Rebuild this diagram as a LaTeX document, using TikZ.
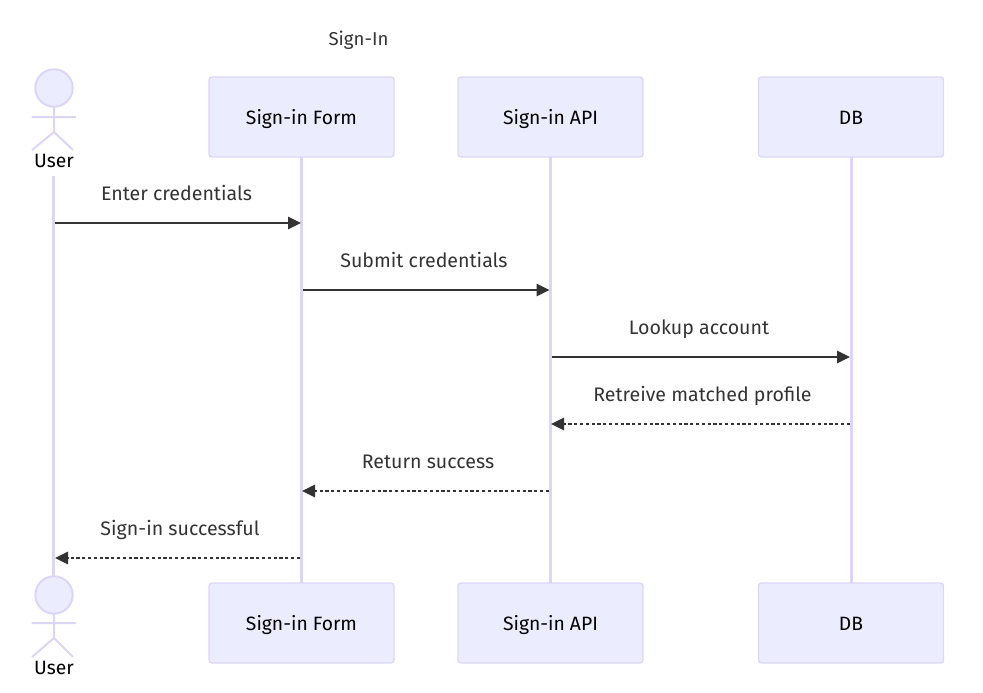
\documentclass[tikz,border=0pt]{standalone}
\usepackage{fontspec}
\setmainfont{Fira Sans}
\usetikzlibrary{positioning, arrows.meta}
\definecolor{actorfill}{HTML}{ECECFF}
\definecolor{actorline}{HTML}{DDD5F5}
\definecolor{msgcolor}{HTML}{333333}

\begin{document}
\begin{tikzpicture}[
    x=1pt,
    y=-1pt,
    >=Stealth,
    actorbox/.style={
        draw=actorline,
        fill=actorfill,
        line width=1.3pt,
        rounded corners=3pt,
        minimum width=185pt,
        minimum height=80pt,
        inner sep=0pt,
        text height=15pt,
        text depth=0pt,
        text=black,
        font=\fontsize{19.3}{22}\selectfont
    },
    actorlabel/.style={
        text=black,
        inner sep=0pt,
        text height=14pt,
        text depth=0pt,
        font=\fontsize{19.3}{22}\selectfont
    },
    figure/.style={draw=actorline, line width=2pt},
    lifeline/.style={draw=actorline, line width=2.5pt},
    msg/.style={
        draw=msgcolor,
        line width=1.6pt,
        -{Triangle[length=13pt,width=12.5pt,fill=msgcolor]}
    },
    reply/.style={msg, dash pattern=on 3.2pt off 2.6pt},
    msglabel/.style={
        text=msgcolor,
        inner sep=0pt,
        text height=14pt,
        text depth=0pt,
        font=\fontsize{19.6}{22}\selectfont
    }
]
    \useasboundingbox (0, 0) rectangle (983, 693);

    \node[msglabel, font=\fontsize{18.6}{22}\selectfont] (title) at (358.5, 38.5) {Sign-In};

    % lifelines go under the boxes
    \coordinate (formtop) at (301.5, 157);
    \coordinate (formend) at (301.5, 583);
    \coordinate (apitop) at (550.5, 157);
    \coordinate (apiend) at (550.5, 583);
    \coordinate (dbtop) at (851.5, 157);
    \coordinate (dbend) at (851.5, 583);
    \coordinate (userstart) at (53.5, 176);
    \coordinate (userend) at (53.5, 577);

    \draw[lifeline] (userstart) -- (userend);
    \draw[lifeline] (formtop) -- (formend);
    \draw[lifeline] (apitop) -- (apiend);
    \draw[lifeline] (dbtop) -- (dbend);

    % top row
    \node[actorbox] (form) at (301.5, 117) {Sign-in Form};
    \node[actorbox] (api) at (550.5, 117) {Sign-in API};
    \node[actorbox] (db) at (851, 117) {DB};
    \node[actorlabel] (user) at (54, 160) {User};

    % bottom row
    \node[actorbox] (form2) at (301.5, 623) {Sign-in Form};
    \node[actorbox] (api2) at (550.5, 623) {Sign-in API};
    \node[actorbox] (db2) at (851, 623) {DB};
    \node[actorlabel] (user2) at (54, 667) {User};

    % stick figures
    \draw[figure, fill=actorfill] (54, 88) circle (18.7);
    \draw[figure] (54, 107) -- (54, 132) (31.5, 117) -- (76, 117) (32, 150) -- (54, 132) -- (73, 150);
    \draw[figure, fill=actorfill] (54, 595) circle (18.7);
    \draw[figure] (54, 614) -- (54, 638) (31.5, 623) -- (76, 623) (32, 657) -- (54, 638) -- (73, 657);

    % messages
    \coordinate (m1a) at (55, 223);
    \coordinate (m1b) at (301, 223);
    \coordinate (m2a) at (303, 290);
    \coordinate (m2b) at (549.5, 290);
    \coordinate (m3a) at (552, 357);
    \coordinate (m3b) at (850, 357);
    \coordinate (m4a) at (850, 424);
    \coordinate (m4b) at (551, 424);
    \coordinate (m5a) at (549, 491);
    \coordinate (m5b) at (302, 491);
    \coordinate (m6a) at (300, 558);
    \coordinate (m6b) at (55, 558);

    \draw[msg] (m1a) -- (m1b);
    \draw[msg] (m2a) -- (m2b);
    \draw[msg] (m3a) -- (m3b);
    \draw[reply] (m4a) -- (m4b);
    \draw[reply] (m5a) -- (m5b);
    \draw[reply] (m6a) -- (m6b);

    \node[msglabel] (l1) at (176.5, 193) {Enter credentials};
    \node[msglabel] (l2) at (424, 260) {Submit credentials};
    \node[msglabel] (l3) at (699, 327) {Lookup account};
    \node[msglabel] (l4) at (702.5, 394) {Retreive matched profile};
    \node[msglabel] (l5) at (428, 461) {Return success};
    \node[msglabel] (l6) at (180, 528) {Sign-in successful};
\end{tikzpicture}
\end{document}
